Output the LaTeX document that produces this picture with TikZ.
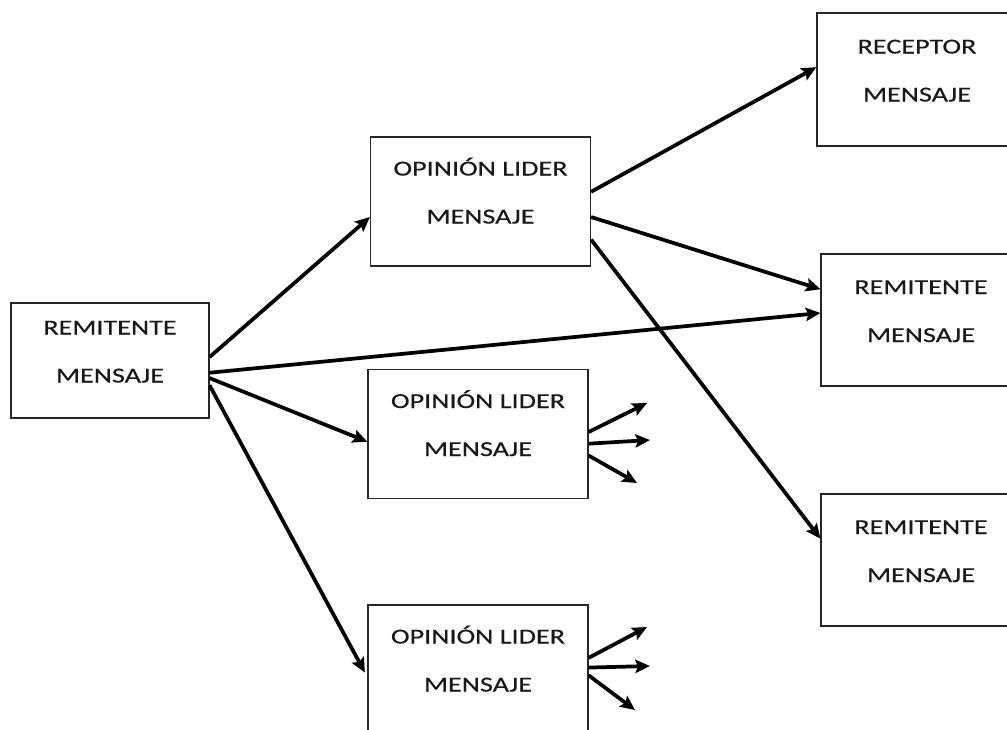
\documentclass[tikz,border=0pt]{standalone}
\usepackage{fontspec}
\newfontfamily\boxfont[FakeStretch=1.32,FakeBold=0.4]{Carlito}
\usetikzlibrary{arrows.meta}
\tikzset{>={Stealth[length=11pt,width=10pt,inset=2pt]}}
\tikzset{
  msgbox/.style={draw=black!85, line width=0.9pt, rectangle, align=center, inner sep=0pt,
    text=black!90, font=\boxfont\fontsize{16pt}{36pt}\selectfont,
    text height=46pt, text depth=13pt},
  liderbox/.style={msgbox, minimum width=165pt, minimum height=96.75pt},
  rightbox/.style={msgbox, minimum width=150pt, minimum height=99pt},
  flow/.style={->, line width=2.8pt}
}

\begin{document}
\begin{tikzpicture}[x=0.75pt, y=-0.75pt]
  \useasboundingbox (0,0) rectangle (1007,729);
  \clip (0,0) rectangle (1007,729);

  % boxes
  \node[msgbox, minimum width=148.5pt, minimum height=86.25pt] (remitente) at (110,360.5) {REMITENTE\\MENSAJE};
  \node[liderbox] (lider1) at (480.5,201.5) {OPINIÓN LIDER\\MENSAJE};
  \node[liderbox] (lider2) at (478,434) {OPINIÓN LIDER\\MENSAJE};
  \node[liderbox] (lider3) at (478,669.5) {OPINIÓN LIDER\\MENSAJE};
  \node[rightbox, minimum height=99.75pt] (receptor) at (917,79.5) {RECEPTOR\\MENSAJE};
  \node[rightbox] (rem2) at (921,320) {REMITENTE\\MENSAJE};
  \node[rightbox] (rem3) at (921,560) {REMITENTE\\MENSAJE};

  % free ends of the small fans
  \coordinate (l2a) at (647,403);
  \coordinate (l2b) at (650,440);
  \coordinate (l2c) at (637,483);
  \coordinate (l3a) at (647,627);
  \coordinate (l3b) at (650,666);
  \coordinate (l3c) at (635,710);

  % arrows
  \draw[flow] (remitente.2) -- (lider1.188);
  \draw[flow] (remitente.-7) -- (rem2.176);
  \draw[flow] (remitente.-10) -- (lider2.184);
  \draw[flow, shorten >=4pt] (remitente.-14) -- (lider3.184);
  \draw[flow] (lider1.5) -- (receptor.173);
  \draw[flow] (lider1.-8) -- (rem2.163);
  \draw[flow] (lider1.-19) -- (rem3.168);

  \foreach \n/\a/\e in {lider2/1/l2a, lider2/-5/l2b, lider2/-11/l2c,
                        lider3/6/l3a, lider3/1/l3b, lider3/-3/l3c}
    \draw[flow] (\n.\a) -- (\e);
\end{tikzpicture}
\end{document}
